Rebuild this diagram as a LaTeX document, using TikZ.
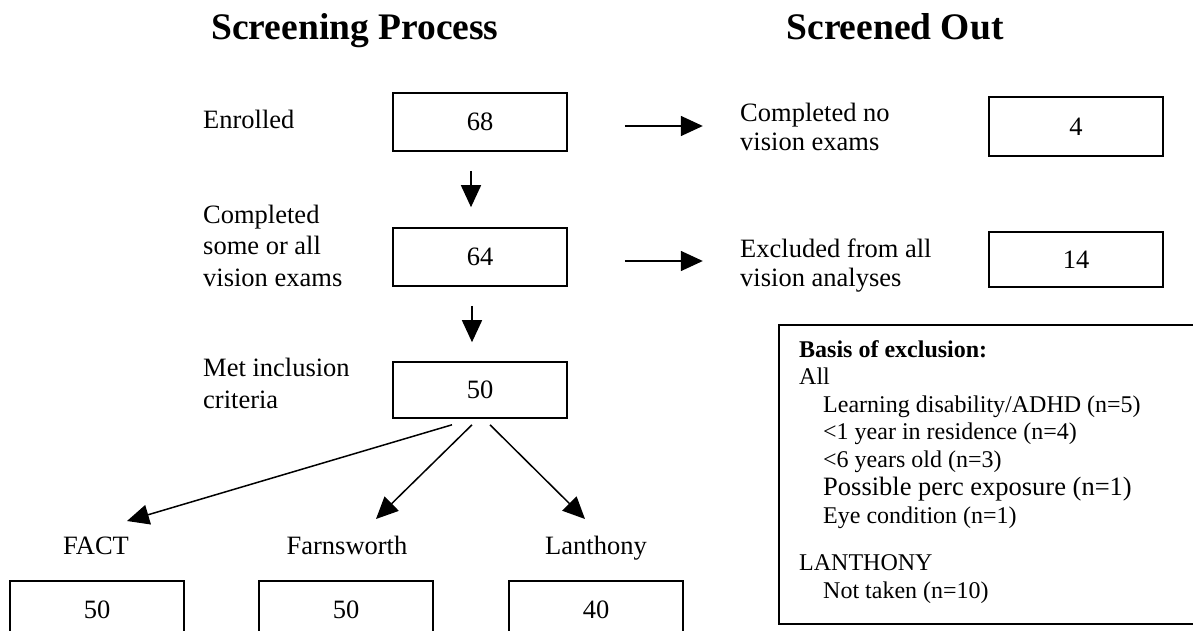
\documentclass[tikz,border=0pt]{standalone}
\usepackage{fontspec}
\setmainfont{Liberation Serif}
\usetikzlibrary{arrows.meta,calc}
\begin{document}
\begin{tikzpicture}[x=1pt,y=-1pt,
  box/.style={draw, line width=1.6pt, minimum width=174pt, minimum height=58pt, inner sep=0pt, font=\fontsize{26.5}{31.5}\selectfont},
  lbl/.style={anchor=base west, align=left, inner sep=0pt, font=\fontsize{26.5}{31.5}\selectfont},
  lblr/.style={anchor=base west, align=left, inner sep=0pt, font=\fontsize{26.5}{29}\selectfont},
  lblc/.style={anchor=base, inner sep=0pt, font=\fontsize{26.5}{31.5}\selectfont},
  ttl/.style={anchor=base, inner sep=0pt, font=\fontsize{37.5}{40}\selectfont\bfseries},
  arr/.style={line width=1.5pt, -{Triangle[length=22pt,width=20pt]}},
  sm/.style={anchor=base west, inner sep=0pt, font=\fontsize{24}{28}\selectfont}]
\useasboundingbox (0,0) rectangle (1193,631);
\clip (0,0) rectangle (1193,631);
\fill[white] (0,0) rectangle (1193,631);
% titles
\node[ttl] (t1) at (355,40) {Screening Process};
\node[ttl] (t2) at (895,40) {Screened Out};
% main boxes
\node[box] (b68) at (480,122) {68};
\node[box] (b64) at (480,257) {64};
\node[box, minimum height=56pt] (b50) at (480,390) {50};
\node[box, minimum height=59pt] (b4) at (1076,126.5) {4};
\node[box, minimum height=55pt] (b14) at (1076,259.5) {14};
\node[box] (bF) at (97,610) {50};
\node[box] (bFa) at (346,610) {50};
\node[box] (bL) at (596,610) {40};
% labels (base anchor = baseline of last line)
\node[lbl] (lEn) at (203,129) {Enrolled};
\node[lbl] (lCo) at (203,286) {Completed\\some or all\\vision exams};
\node[lbl] (lMet) at (203,408) {Met inclusion\\criteria};
\node[lblr] (lNo) at (740,151) {Completed no\\vision exams};
\node[lblr] (lEx) at (740,286) {Excluded from all\\vision analyses};
\node[lblc] (lF) at (96,554) {FACT};
\node[lblc] (lFa) at (347,554) {Farnsworth};
\node[lblc] (lL) at (596,554) {Lanthony};
% arrows
\draw[arr] ($(b68.south)+(-9,19)$) -- ($(b64.north)+(-9,-20)$);
\draw[arr] ($(b64.south)+(-8,19)$) -- ($(b50.north)+(-8,-19)$);
\draw[arr] ($(b68.east)+(57,4)$) -- ++(78,0);
\draw[arr] ($(b64.east)+(57,4)$) -- ++(78,0);
\coordinate (tF) at (127,521);
\coordinate (tFa) at (376,519);
\coordinate (tL) at (585,519);
\draw[arr] ($(b50.south)+(-28,6)$) -- (tF);
\draw[arr] ($(b50.south)+(-8,6)$) -- (tFa);
\draw[arr] ($(b50.south)+(10,6)$) -- (tL);
% basis box
\node[draw, line width=1.6pt, anchor=north west, minimum width=440pt, minimum height=299pt, inner sep=0pt] (basis) at (778,324) {};
\node[sm, font=\fontsize{24}{28}\selectfont\bfseries] (x1) at (799,357) {Basis of exclusion:};
\node[sm] (x2) at (799,384) {All};
\node[sm] (x3) at (823,412) {Learning disability/ADHD (n=5)};
\node[sm] (x4) at (823,439) {<1 year in residence (n=4)};
\node[sm] (x5) at (823,467) {<6 years old (n=3)};
\node[sm, font=\fontsize{26.5}{30}\selectfont] (x6) at (823,495) {Possible perc exposure (n=1)};
\node[sm] (x7) at (823,523) {Eye condition (n=1)};
\node[sm] (x8) at (799,570) {LANTHONY};
\node[sm] (x9) at (823,598) {Not taken (n=10)};
\end{tikzpicture}
\end{document}
